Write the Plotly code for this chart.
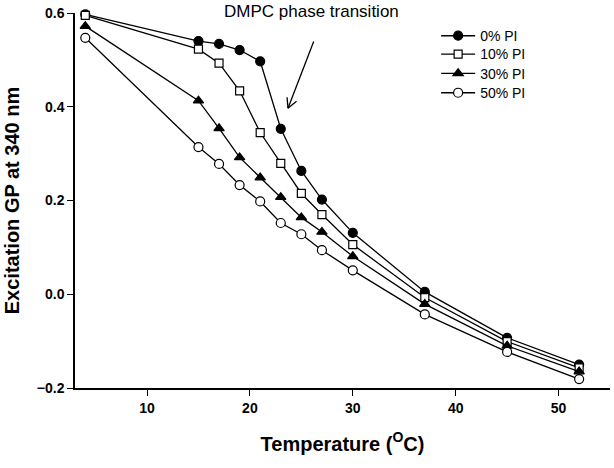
import math
import plotly.graph_objects as go

temperature = [4, 15, 17, 19, 21, 23, 25, 27, 30, 37, 45, 52]
gp_0 = [0.597, 0.540, 0.534, 0.521, 0.497, 0.353, 0.263, 0.202, 0.131, 0.005, -0.093, -0.150]
gp_10 = [0.595, 0.523, 0.493, 0.434, 0.345, 0.279, 0.215, 0.170, 0.106, -0.007, -0.101, -0.157]
gp_30 = [0.572, 0.413, 0.354, 0.292, 0.249, 0.207, 0.164, 0.133, 0.081, -0.021, -0.110, -0.165]
gp_50 = [0.547, 0.314, 0.278, 0.233, 0.198, 0.152, 0.128, 0.094, 0.051, -0.043, -0.123, -0.181]
series_names = ["0% PI", "10% PI", "30% PI", "50% PI"]
x_ticks = [10, 20, 30, 40, 50]
y_ticks = [-0.2, 0.0, 0.2, 0.4, 0.6]

FONT = "Arial, 'Liberation Sans', sans-serif"
styles = [
    dict(symbol="circle", color="black", size=9),
    dict(symbol="square", color="white", size=8),
    dict(symbol="triangle-up", color="black", size=9),
    dict(symbol="circle", color="white", size=9),
]
legend_ids = ["legend", "legend2", "legend3", "legend4"]
legend_tops = [0.981, 0.9322, 0.8807, 0.829]

fig = go.Figure()
for name, ys, st, lid in zip(series_names, [gp_0, gp_10, gp_30, gp_50], styles, legend_ids):
    fig.add_trace(go.Scatter(
        x=temperature, y=ys, name=name, mode="lines+markers",
        line=dict(color="black", width=1.3),
        marker=dict(symbol=st["symbol"], color=st["color"], size=st["size"],
                    line=dict(color="black", width=1.2)),
        cliponaxis=False, legend=lid,
    ))

# Arrow pointing to the transition (data coords)
tail = (26.2, 0.539)
tip = (23.7, 0.397)
xr, yr = (3, 55), (-0.2, 0.6)
pxu = 535 / (xr[1] - xr[0])
pyu = 375 / (yr[1] - yr[0])
dx = (tail[0] - tip[0]) * pxu
dy = -(tail[1] - tip[1]) * pyu
L = math.hypot(dx, dy)
ux, uy = dx / L, dy / L
shapes = [dict(type="line", xref="x", yref="y", x0=tail[0], y0=tail[1], x1=tip[0], y1=tip[1],
               line=dict(color="black", width=1.3))]
for ang in (-26, 30):
    a = math.radians(ang)
    bx = ux * math.cos(a) - uy * math.sin(a)
    by = ux * math.sin(a) + uy * math.cos(a)
    blen = 11
    shapes.append(dict(type="line", xref="x", yref="y", x0=tip[0], y0=tip[1],
                       x1=tip[0] + bx * blen / pxu, y1=tip[1] - by * blen / pyu,
                       line=dict(color="black", width=1.3)))

layout_legends = {
    lid: dict(y=yt, xanchor="left", yanchor="top", x=0.675,
              font=dict(family=FONT, size=14, color="black"),
              bgcolor="rgba(0,0,0,0)", itemwidth=34)
    for lid, yt in zip(legend_ids, legend_tops)
}

fig.update_layout(
    width=614, height=468,
    margin=dict(l=75, r=4, t=13, b=80),
    paper_bgcolor="white", plot_bgcolor="white",
    font=dict(family=FONT, color="black"),
    showlegend=True,
    shapes=shapes,
    annotations=[dict(text="DMPC phase transition", xref="x", yref="paper",
                      x=26.0, y=1.003, showarrow=False, xanchor="center", yanchor="middle",
                      font=dict(family=FONT, size=17, color="black"))],
    **layout_legends,
)
fig.update_xaxes(
    range=list(xr), tickvals=x_ticks, ticks="outside", ticklen=6, tickwidth=1.2,
    tickcolor="black", showline=True, linecolor="black", linewidth=1.5,
    showgrid=False, zeroline=False, mirror=False,
    tickfont=dict(family=FONT, size=14, color="black", weight="bold"),
    title=dict(text="Temperature (<sup>O</sup>C)", standoff=22,
               font=dict(family=FONT, size=20, color="black", weight="bold")),
)
fig.update_yaxes(
    range=list(yr), tickvals=y_ticks, tickformat=".1f", ticks="outside", ticklen=6, tickwidth=1.2,
    tickcolor="black", showline=True, linecolor="black", linewidth=1.5,
    showgrid=False, zeroline=False, mirror=False,
    tickfont=dict(family=FONT, size=14, color="black", weight="bold"),
    title=dict(text="Excitation GP at 340 nm", standoff=12,
               font=dict(family=FONT, size=20, color="black", weight="bold")),
)
fig.write_html("out.html", config={"displayModeBar": False},
               post_script="document.body.style.margin='0';")
